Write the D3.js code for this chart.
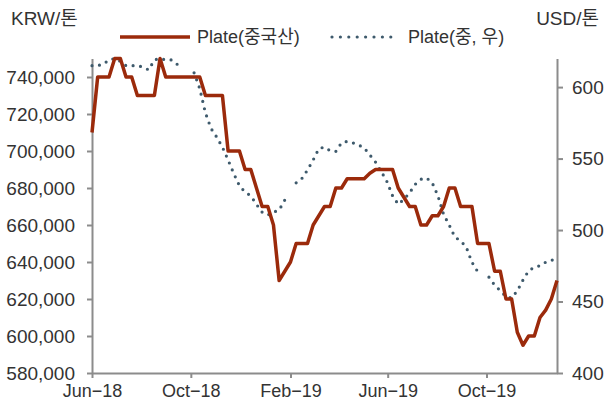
<!DOCTYPE html>
<html>
<head>
<meta charset="utf-8">
<script src="https://cdn.jsdelivr.net/npm/d3@7"></script>
<style>
    body { margin: 0; background: #fff; }
    text { font-family: "Liberation Sans", "Noto Sans CJK KR", sans-serif; fill: #333; }
</style>
</head>
<body>
<svg id="chart"></svg>
<script>
// 주간 데이터, 2018-06-01 부터
const startDate = new Date(2018, 5, 1);

// Plate(중국산), KRW/톤 - 왼쪽 축
const plateChina = [
    710000, 740000, 740000, 740000, 750000, 750000, 740000, 740000, 730000, 730000,
    730000, 730000, 750000, 740000, 740000, 740000, 740000, 740000, 740000, 740000,
    730000, 730000, 730000, 730000, 700000, 700000, 700000, 690000, 690000, 680000,
    670000, 670000, 660000, 630000, 635000, 640000, 650000, 650000, 650000, 660000,
    665000, 670000, 670000, 680000, 680000, 685000, 685000, 685000, 685000, 688000,
    690000, 690000, 690000, 690000, 680000, 675000, 670000, 670000, 660000, 660000,
    665000, 665000, 670000, 680000, 680000, 670000, 670000, 670000, 650000, 650000,
    650000, 635000, 635000, 620000, 620000, 602000, 595000, 600000, 600000, 610000,
    614000, 620000, 630000
];

// Plate(중, 우), USD/톤 - 오른쪽 축 (null = 빈 값)
const plateCnKr = [
    615, 615, 616, 619, 620, 618, 615, 615, 615, 614,
    612, 619, 620, 619, 619, 616, 613, null, 610, 599,
    582, 571, 565, 558, 549, 539.5, 531, 526.5, 524, 518,
    512.5, 510.5, 512.5, 514, 521, null, 533, 536, 542, 549,
    557, 558, 555.5, 555, 561, 562, 561, 559.5, 557.5, 552.5,
    547.5, 541, 534, 524, 518, 521.5, 526, 532, 535.5, 536.5,
    533, 524, 511, 503.5, 495, 492.5, 488, 477.5, 471, null,
    467, 461.5, 457.6, 453.5, 452.5, 457.5, 465, 471.5, 474, 475,
    477.5, 479, 479
];

const seriesNames = ["Plate(중국산)", "Plate(중, 우)"];
const unitLabels = ["KRW/톤", "USD/톤"];
const xTickDates = ["2018-06-01", "2018-10-01", "2019-02-01", "2019-06-01", "2019-10-01"];
const leftTicks = d3.range(580000, 740001, 20000);
const rightTicks = d3.range(400, 601, 50);

const config = {
    width: 607, height: 407,
    left: 92, right: 557, top: 58.5, bottom: 373,
    red: "#9b2a0b", blue: "#3e5a6c", axis: "#8c8c8c"
};

const dates = plateChina.map((_, i) => d3.timeDay.offset(startDate, i * 7));

const svg = d3.select("#chart")
    .attr("width", config.width)
    .attr("height", config.height);

// scales
const x = d3.scaleTime()
    .domain([dates[0], dates[dates.length - 1]])
    .range([config.left, config.right]);

const yL = d3.scaleLinear()
    .domain([580000, 750000])
    .range([config.bottom, config.top]);

const yR = d3.scaleLinear()
    .domain([400, 620])
    .range([config.bottom, config.top]);

// axes
const styleAxis = g => {
    g.select(".domain").attr("stroke", config.axis).attr("stroke-width", 2);
    g.selectAll(".tick line").attr("stroke", config.axis).attr("stroke-width", 2);
    g.selectAll(".tick text").attr("font-size", 19).attr("fill", "#333");
};

svg.append("g")
    .attr("transform", `translate(${config.left},0)`)
    .call(d3.axisLeft(yL).tickValues(leftTicks).tickFormat(d3.format(","))
        .tickSize(5).tickSizeOuter(0).tickPadding(12))
    .call(styleAxis);

svg.append("g")
    .attr("transform", `translate(${config.right},0)`)
    .call(d3.axisRight(yR).tickValues(rightTicks)
        .tickSize(6).tickSizeOuter(0).tickPadding(9))
    .call(styleAxis);

svg.append("g")
    .attr("transform", `translate(0,${config.bottom})`)
    .call(d3.axisBottom(x).tickValues(xTickDates.map(d3.timeParse("%Y-%m-%d")))
        .tickFormat(d => d3.timeFormat("%b-%y")(d).replace("-", "\u2212"))
        .tickSize(5).tickSizeOuter(0).tickPadding(6))
    .call(styleAxis)
    .call(g => g.selectAll(".tick text").attr("font-size", 18));

// lines
const redLine = d3.line()
    .x((d, i) => x(dates[i]))
    .y(d => yL(d));

const blueLine = d3.line()
    .defined(d => d !== null)
    .x((d, i) => x(dates[i]))
    .y(d => yR(d));

svg.append("path")
    .datum(plateCnKr)
    .attr("fill", "none")
    .attr("stroke", config.blue)
    .attr("stroke-width", 3.2)
    .attr("stroke-linecap", "round")
    .attr("stroke-dasharray", "0 7.5")
    .attr("d", blueLine);

svg.append("path")
    .datum(plateChina)
    .attr("fill", "none")
    .attr("stroke", config.red)
    .attr("stroke-width", 3.5)
    .attr("stroke-linejoin", "round")
    .attr("d", redLine);

// unit labels
svg.append("text")
    .attr("x", 11).attr("y", 18).attr("dy", "0.35em")
    .attr("font-size", 19)
    .text(unitLabels[0]);

svg.append("text")
    .attr("x", 599).attr("y", 18).attr("dy", "0.35em")
    .attr("text-anchor", "end")
    .attr("font-size", 19)
    .text(unitLabels[1]);

// legend
const legend = svg.append("g").attr("transform", "translate(0,37)");

legend.append("line")
    .attr("x1", 120).attr("x2", 190)
    .attr("stroke", config.red).attr("stroke-width", 3.5);

legend.append("text")
    .attr("x", 197).attr("dy", "0.35em")
    .attr("font-size", 18)
    .text(seriesNames[0]);

legend.append("line")
    .attr("x1", 332).attr("x2", 399)
    .attr("stroke", config.blue).attr("stroke-width", 3.2)
    .attr("stroke-linecap", "round")
    .attr("stroke-dasharray", "0 8.4");

legend.append("text")
    .attr("x", 408).attr("dy", "0.35em")
    .attr("font-size", 18)
    .text(seriesNames[1]);
</script>
</body>
</html>
